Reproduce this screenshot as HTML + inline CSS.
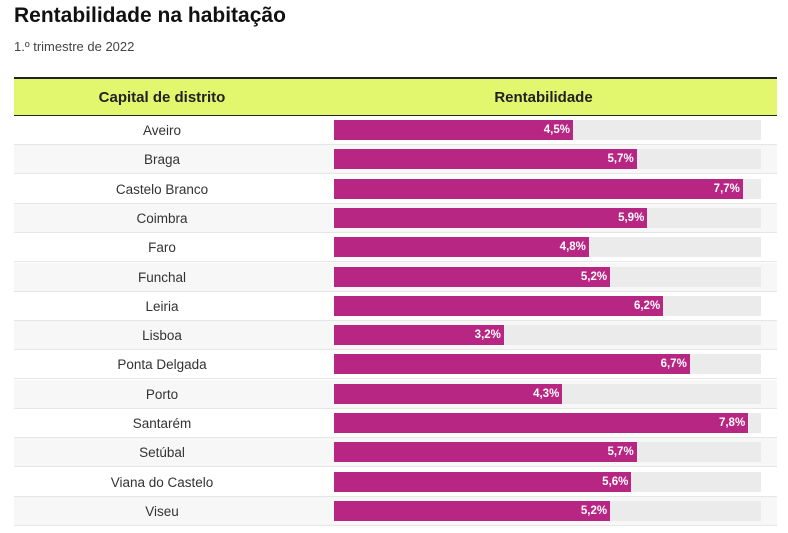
<!DOCTYPE html>
<html><head><meta charset="utf-8"><style>
body{margin:0;width:788px;height:533px;background:#fff;font-family:"Liberation Sans",Roboto,sans-serif;color:#222;position:relative;overflow:hidden}
h1{position:absolute;left:14px;top:4px;margin:0;font-size:21px;font-weight:bold;color:#111}
.sub{position:absolute;left:14px;top:39px;font-size:13px;color:#444}
.hdr{position:absolute;left:14px;top:77px;width:763px;height:36px;background:#e3f76e;border-top:2px solid #222;border-bottom:2px solid #222}
.hdr div{position:absolute;top:10px;font-size:15px;font-weight:bold;color:#222;text-align:center}
.row{position:absolute;left:14px;width:763px;height:29px;box-shadow:inset 0 -1px 0 #e6e6e6}
.row .n{position:absolute;left:0;width:296px;text-align:center;top:7px;font-size:13.5px;color:#333}
.row .t{position:absolute;left:320px;width:427px;top:4px;height:20px;background:#ebebeb}
.row .b{position:absolute;left:0;top:0;height:20px;background:#b72682;color:#fff;font-size:11.5px;font-weight:bold;text-align:right;line-height:20px;box-sizing:border-box;padding-right:3px}
</style></head><body>
<h1>Rentabilidade na habitação</h1>
<div class="sub">1.º trimestre de 2022</div>
<div class="hdr"><div style="left:0;width:296px">Capital de distrito</div><div style="left:296px;width:467px">Rentabilidade</div></div>
<div id="rows"></div>
<script>
var d=[["Aveiro",4.5],["Braga",5.7],["Castelo Branco",7.7],["Coimbra",5.9],["Faro",4.8],["Funchal",5.2],["Leiria",6.2],["Lisboa",3.2],["Ponta Delgada",6.7],["Porto",4.3],["Santarém",7.8],["Setúbal",5.7],["Viana do Castelo",5.6],["Viseu",5.2]];
var h="";d.forEach(function(r,i){var top=Math.round(116+i*29.3);var bg=i%2?"#f7f7f7":"#fff";
h+='<div class="row" style="top:'+top+'px;background:'+bg+'"><div class="n">'+r[0]+'</div><div class="t"><div class="b" style="width:'+(r[1]*53.1).toFixed(1)+'px">'+String(r[1]).replace(".",",")+'%</div></div></div>';});
document.getElementById("rows").innerHTML=h;
</script>
</body></html>
